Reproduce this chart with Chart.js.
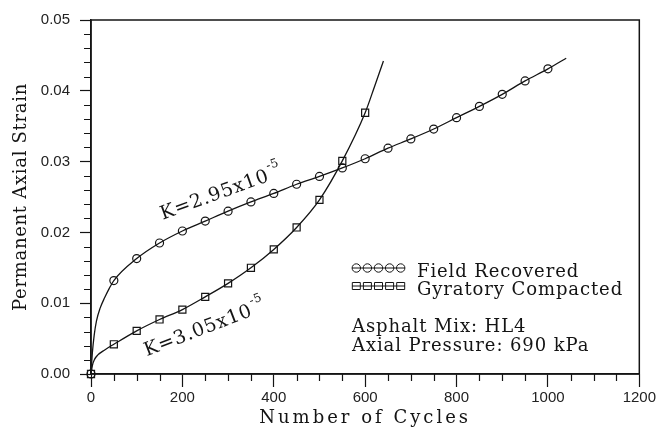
<!DOCTYPE html>
<html>
<head>
<meta charset="utf-8">
<script src="https://cdn.jsdelivr.net/npm/chart.js@4.4.1/dist/chart.umd.min.js"></script>
<style>
html, body { margin: 0; padding: 0; background: #fff; }
#wrap { width: 658px; height: 427px; }
</style>
</head>
<body>
<div id="wrap"><canvas id="strainChart" width="658" height="427"></canvas></div>
<script>
// marker values
const markerCycles = [0, 50, 100, 150, 200, 250, 300, 350, 400, 450, 500, 550, 600, 650, 700, 750, 800, 850, 900, 950, 1000];
const fieldStrain = [0, 0.0132, 0.0163, 0.0185, 0.0202, 0.0216, 0.0230, 0.0243, 0.0255, 0.0268, 0.0279, 0.0291, 0.0304, 0.0319, 0.0332, 0.0346, 0.0362, 0.0378, 0.0395, 0.0414, 0.0431];
const gyratoryStrain = [0, 0.0042, 0.0061, 0.0077, 0.0091, 0.0109, 0.0128, 0.0150, 0.0176, 0.0207, 0.0246, 0.0301, 0.0369];

// fitted curves
const fieldCurveCycles = [0, 3, 7, 12, 20, 30, 40, 50, 100, 150, 200, 250, 300, 350, 400, 450, 500, 550, 600, 650, 700, 750, 800, 850, 900, 950, 1000, 1040];
const fieldCurveStrain = [0, 0.0030, 0.0055, 0.0075, 0.0093, 0.0108, 0.0121, 0.0132, 0.0163, 0.0185, 0.0202, 0.0216, 0.0230, 0.0243, 0.0255, 0.0268, 0.0279, 0.0291, 0.0304, 0.0319, 0.0332, 0.0346, 0.0362, 0.0378, 0.0395, 0.0414, 0.0431, 0.0446];
const gyratoryCurveCycles = [0, 3, 8, 15, 30, 50, 100, 150, 200, 250, 300, 350, 400, 450, 500, 550, 600, 620, 640];
const gyratoryCurveStrain = [0, 0.0012, 0.0021, 0.0027, 0.0034, 0.0042, 0.0061, 0.0077, 0.0091, 0.0109, 0.0128, 0.0150, 0.0176, 0.0207, 0.0246, 0.0301, 0.0369, 0.0405, 0.0442];

const xTickLabels = [0, 200, 400, 600, 800, 1000, 1200];
const yTickLabels = [0.00, 0.01, 0.02, 0.03, 0.04, 0.05];
const seriesNames = ['Field Recovered', 'Gyratory Compacted'];
const kLabels = [['K=2.95x10', '-5'], ['K=3.05x10', '-5']];
const notes = ['Asphalt Mix: HL4', 'Axial Pressure: 690 kPa'];

const INK = '#141414';
const SERIF = '"DejaVu Serif", serif';

function pairs(xs, ys) {
    return ys.map((y, i) => ({ x: xs[i], y: y }));
}
function isMajorX(v) { return xTickLabels.includes(v); }
function isMajorY(v) { return yTickLabels.some(t => Math.abs(t - v) < 1e-9); }

const decorations = {
    id: 'decorations',
    afterDraw(chart) {
        const ctx = chart.ctx;
        const a = chart.chartArea;
        const xs = chart.scales.x, ys = chart.scales.y;
        ctx.save();
        ctx.strokeStyle = INK;
        ctx.fillStyle = INK;

        // frame
        ctx.lineWidth = 1.5;
        ctx.strokeRect(a.left, a.top, a.right - a.left, a.bottom - a.top);

        // minor ticks
        ctx.lineWidth = 1.2;
        ctx.beginPath();
        xs.ticks.forEach(t => {
            if (isMajorX(t.value)) return;
            const px = Math.round(xs.getPixelForValue(t.value)) + 0.5;
            ctx.moveTo(px, a.bottom);
            ctx.lineTo(px, a.bottom + 7);
        });
        ys.ticks.forEach(t => {
            if (isMajorY(t.value)) return;
            const py = Math.round(ys.getPixelForValue(t.value)) + 0.5;
            ctx.moveTo(a.left, py);
            ctx.lineTo(a.left - 7, py);
        });
        ctx.stroke();

        // axis titles
        ctx.font = '18px ' + SERIF;
        ctx.textAlign = 'center';
        ctx.textBaseline = 'alphabetic';
        ctx.letterSpacing = '3px';
        ctx.fillText('Number of Cycles', (a.left + a.right) / 2, 423);
        ctx.letterSpacing = '0.7px';
        ctx.save();
        ctx.translate(26, (a.top + a.bottom) / 2);
        ctx.rotate(-Math.PI / 2);
        ctx.fillText('Permanent Axial Strain', 0, 0);
        ctx.restore();

        // K labels along the curves
        const kPos = [[157, 0.0218, -20], [122, 0.0025, -21]];
        ctx.textAlign = 'left';
        kLabels.forEach((lab, i) => {
            const p = kPos[i];
            ctx.save();
            ctx.translate(xs.getPixelForValue(p[0]), ys.getPixelForValue(p[1]));
            ctx.rotate(p[2] * Math.PI / 180);
            ctx.letterSpacing = '0.8px';
            ctx.font = '19px ' + SERIF;
            ctx.fillText(lab[0], 0, 0);
            const w = ctx.measureText(lab[0]).width;
            ctx.font = '12px ' + SERIF;
            ctx.fillText(lab[1], w + 1, -11);
            ctx.restore();
        });

        // legend
        ctx.letterSpacing = '0.9px';
        ctx.font = '18px ' + SERIF;
        const lx = 352, rows = [268, 286];
        rows.forEach((ry, i) => {
            ctx.lineWidth = 1;
            ctx.beginPath();
            ctx.moveTo(lx, ry);
            ctx.lineTo(lx + 53, ry);
            ctx.stroke();
            for (let k = 0; k < 5; k++) {
                const cx = lx + 4.3 + k * 11.1;
                ctx.beginPath();
                if (i === 0) ctx.arc(cx, ry, 4.2, 0, Math.PI * 2);
                else ctx.rect(cx - 4, ry - 3.5, 8, 7);
                ctx.stroke();
            }
            ctx.fillText(seriesNames[i], 417, ry + 9);
        });
        ctx.fillText(notes[0], lx, 332);
        ctx.fillText(notes[1], lx, 351);
        ctx.restore();
    }
};

new Chart(document.getElementById('strainChart'), {
    type: 'line',
    data: {
        datasets: [
            {
                label: 'field fit',
                data: pairs(fieldCurveCycles, fieldCurveStrain),
                borderColor: INK,
                borderWidth: 1.3,
                pointRadius: 0,
                cubicInterpolationMode: 'monotone'
            },
            {
                label: 'gyratory fit',
                data: pairs(gyratoryCurveCycles, gyratoryCurveStrain),
                borderColor: INK,
                borderWidth: 1.3,
                pointRadius: 0,
                cubicInterpolationMode: 'monotone'
            },
            {
                label: seriesNames[0],
                data: pairs(markerCycles, fieldStrain),
                showLine: false,
                clip: false,
                pointStyle: 'circle',
                pointRadius: 4,
                pointBorderWidth: 1.2,
                pointBorderColor: INK,
                pointBackgroundColor: 'rgba(255,255,255,0)'
            },
            {
                label: seriesNames[1],
                data: pairs(markerCycles, gyratoryStrain),
                showLine: false,
                clip: false,
                pointStyle: 'rect',
                pointRadius: 5,
                pointBorderWidth: 1.2,
                pointBorderColor: INK,
                pointBackgroundColor: 'rgba(255,255,255,0)'
            }
        ]
    },
    options: {
        responsive: false,
        animation: false,
        layout: { padding: { top: 20, right: 17, left: 0, bottom: 0 } },
        plugins: {
            legend: { display: false },
            tooltip: { enabled: false }
        },
        scales: {
            x: {
                type: 'linear',
                min: 0,
                max: 1200,
                afterFit: s => { s.height = 53; },
                border: { display: true, color: INK, width: 1.5 },
                grid: {
                    drawOnChartArea: false,
                    tickLength: 13,
                    tickWidth: 1.2,
                    tickColor: c => isMajorX(c.tick.value) ? INK : 'rgba(0,0,0,0)'
                },
                ticks: {
                    stepSize: 50,
                    autoSkip: false,
                    maxRotation: 0,
                    padding: 2,
                    color: '#222',
                    font: { family: '"Liberation Sans", Arial, sans-serif', size: 15 },
                    callback: v => isMajorX(v) ? String(v) : ''
                }
            },
            y: {
                type: 'linear',
                min: 0,
                max: 0.05,
                afterFit: s => { s.width = 91; },
                border: { display: true, color: INK, width: 1.5 },
                grid: {
                    drawOnChartArea: false,
                    tickLength: 11,
                    tickWidth: 1.2,
                    tickColor: c => isMajorY(c.tick.value) ? INK : 'rgba(0,0,0,0)'
                },
                ticks: {
                    stepSize: 0.002,
                    autoSkip: false,
                    padding: 10,
                    color: '#222',
                    font: { family: '"Liberation Sans", Arial, sans-serif', size: 15 },
                    callback: v => isMajorY(v) ? v.toFixed(2) : ''
                }
            }
        }
    },
    plugins: [decorations]
});
</script>
</body>
</html>
